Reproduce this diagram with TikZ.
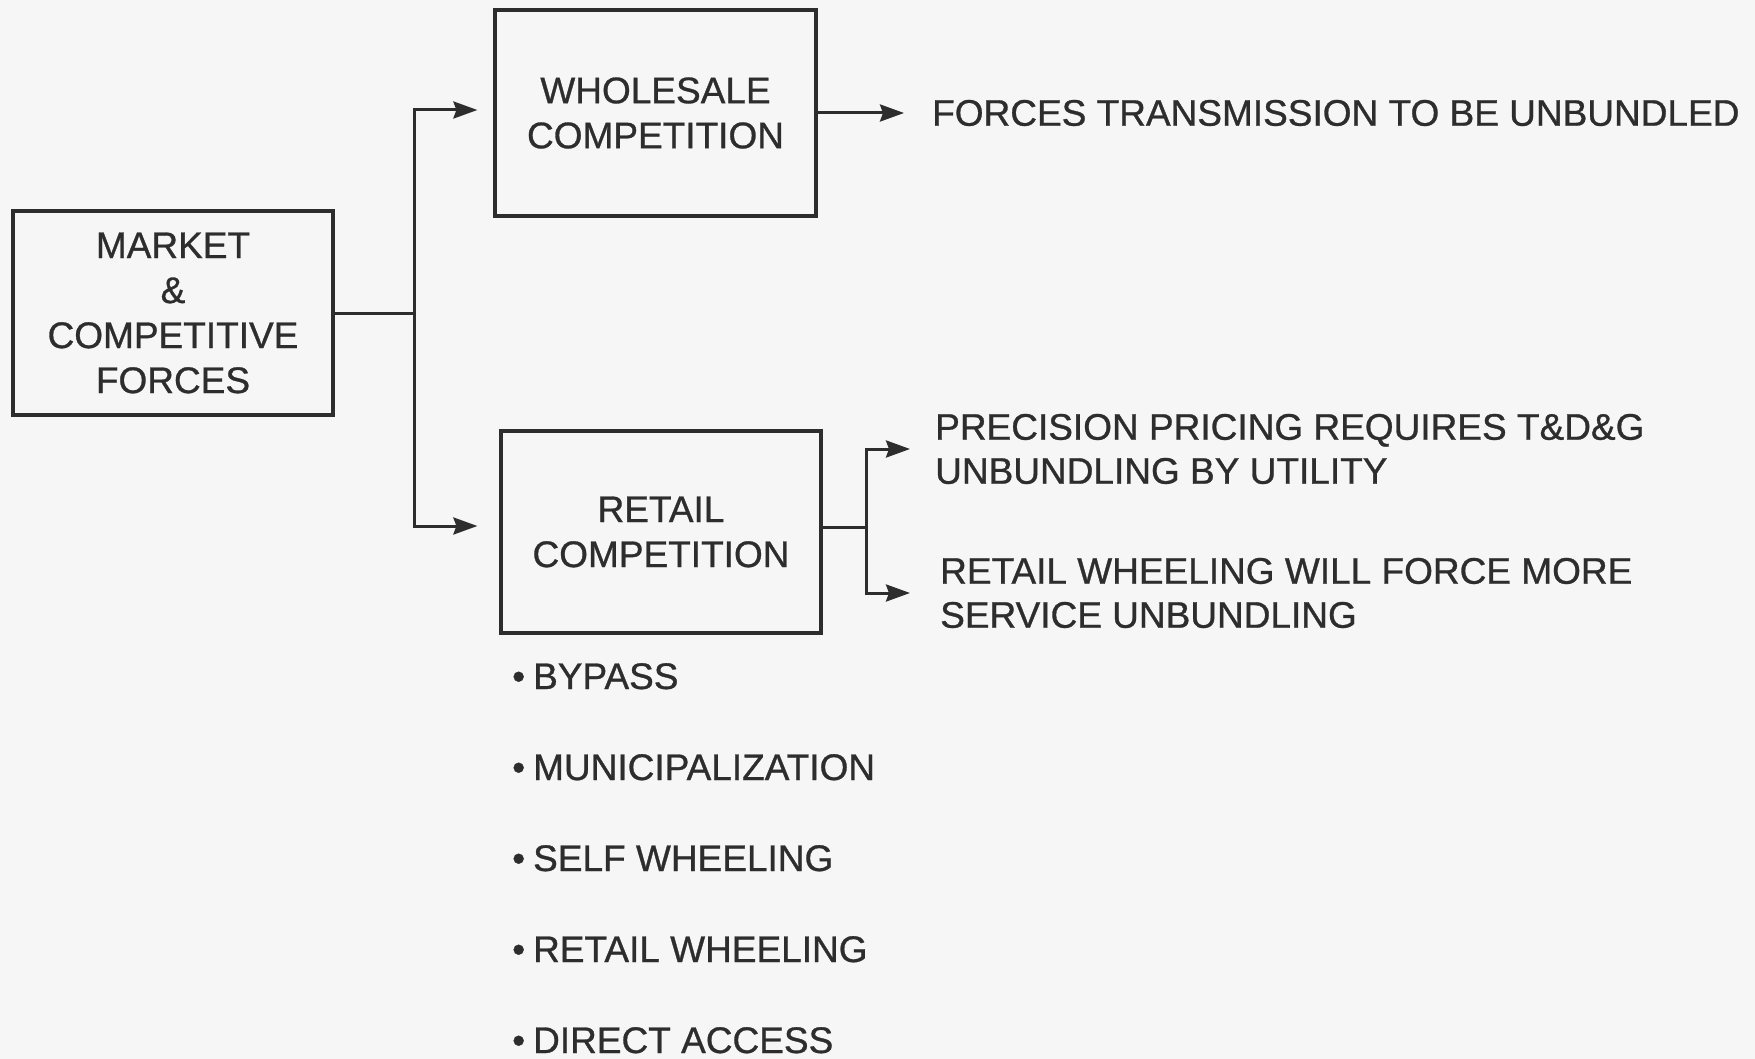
\documentclass[tikz,border=0pt]{standalone}
\usepackage{fontspec}
\setmainfont{Liberation Sans}[FakeBold=0.8]
\usetikzlibrary{arrows.meta}
\definecolor{ink}{RGB}{45,45,45}
\definecolor{paper}{RGB}{246,246,246}
\begin{document}
\begin{tikzpicture}[x=1pt,y=-1pt,
 box/.style={draw=ink,line width=3.2pt,minimum width=320pt,minimum height=204pt,align=center,inner sep=0pt,font=\fontsize{37}{45}\selectfont,text=ink},
 lbl/.style={align=left,anchor=west,font=\fontsize{37}{44}\selectfont,text=ink,inner sep=0pt},
 bul/.style={anchor=base west,font=\fontsize{37}{44}\selectfont,text=ink,inner sep=0pt},
 arr/.style={draw=ink,line width=3pt,-{Stealth[length=24pt,width=17pt,inset=3pt]}},
 con/.style={draw=ink,line width=3pt}]
\fill[paper] (0,0) rectangle (1755,1059);
\useasboundingbox (0,0) rectangle (1755,1059);
% boxes
\node[box] (mk) at (173,313) {MARKET\\\&\\COMPETITIVE\\FORCES};
\node[box,minimum width=321pt,minimum height=206pt] (ws) at (655.5,113) {WHOLESALE\\COMPETITION};
\node[box,minimum height=202pt] (rc) at (661,532) {RETAIL\\COMPETITION};
% right texts
\node[lbl] (ft) at (932,113) {FORCES TRANSMISSION TO BE UNBUNDLED};
\node[lbl] (p1) at (935,449) {PRECISION PRICING REQUIRES T\&D\&G\\UNBUNDLING BY UTILITY};
\node[lbl] (p2) at (940,593) {RETAIL WHEELING WILL FORCE MORE\\SERVICE UNBUNDLING};
% bullets
\node[bul] (b1) at (512,689) {\textbullet\hspace{8pt}BYPASS};
\node[bul] (b2) at (512,780) {\textbullet\hspace{8pt}MUNICIPALIZATION};
\node[bul] (b3) at (512,871) {\textbullet\hspace{8pt}SELF WHEELING};
\node[bul] (b4) at (512,962) {\textbullet\hspace{8pt}RETAIL WHEELING};
\node[bul] (b5) at (512,1053) {\textbullet\hspace{8pt}DIRECT ACCESS};
% connectors
\coordinate (mj) at (414,313);
\draw[con] (mk.east) -- (mj);
\draw[arr,shorten >=16pt] (mj) |- ([yshift=3pt]ws.west);
\draw[arr,shorten >=22pt] (mj) |- ([yshift=6pt]rc.west);
\draw[arr,shorten >=28pt] (ws.east) -- (ft.west);
\coordinate (rj) at (866,527);
\draw[con] ([yshift=5pt]rc.east) -- (rj);
\draw[arr,shorten >=25pt] (rj) |- (p1.west);
\draw[arr,shorten >=30pt] (rj) |- (p2.west);
\end{tikzpicture}
\end{document}
